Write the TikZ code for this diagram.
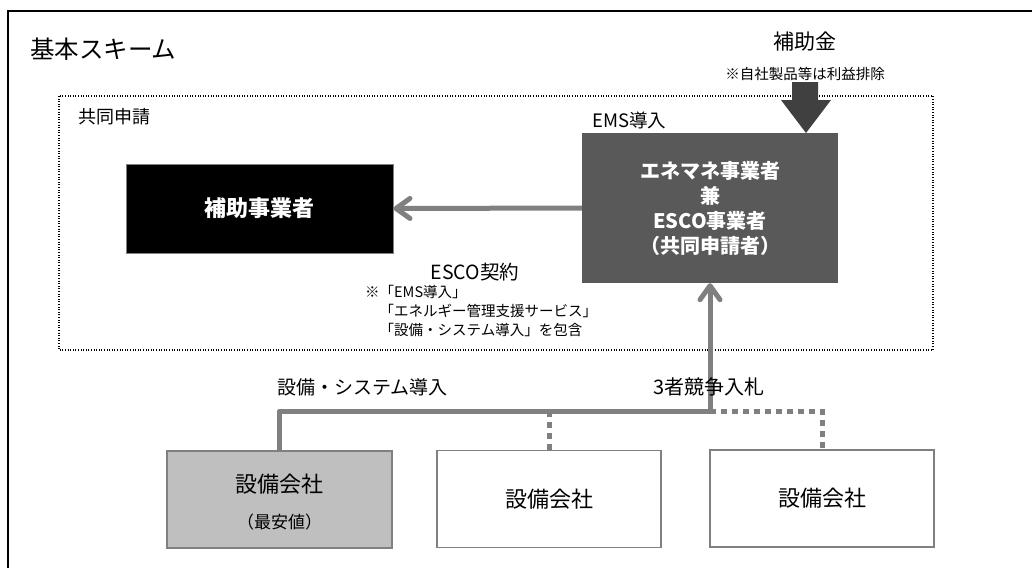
\documentclass[tikz,border=0pt]{standalone}
\usepackage{fontspec}
\setmainfont{Noto Sans CJK JP}
\usetikzlibrary{arrows.meta}
\definecolor{lgray}{HTML}{808080}
\definecolor{dgray}{HTML}{595959}
\definecolor{ddgray}{HTML}{404040}
\definecolor{fgray}{HTML}{BFBFBF}
\tikzset{
  fs/.style={font=\fontsize{#1}{#1}\selectfont},
  txt/.style={inner sep=0pt},
  eqbox/.style={draw=lgray, line width=1.5pt, minimum width=224pt, minimum height=97pt, inner sep=0pt},
  conn/.style={draw=lgray, line width=5pt, line join=round},
  dconn/.style={draw=lgray, line width=5pt, dash pattern=on 6pt off 5pt},
  barb/.style={-{Straight Barb[length=14pt,width=20pt,round]}},
}
\begin{document}
\begin{tikzpicture}[x=1pt,y=-1pt]
\useasboundingbox (0,0) rectangle (1032,568);
% outer frame (left and top sides)
\draw[line width=1.2pt] (8,568) -- (8,11) -- (1032,11);
\node[txt, anchor=west, fs=24.5] (title) at (30,49) {基本スキーム};
% joint application dotted area
\draw[line width=1.1pt, dash pattern=on 1pt off 1.6pt] (59,96) rectangle (933,350);
\node[txt, anchor=west, fs=18] (kyodo) at (78,117) {共同申請};
% boxes
\node[fill=black, draw=lgray, line width=1pt, minimum width=267pt, minimum height=89pt, text=white, font=\bfseries\fontsize{22}{27}\selectfont] (hojo) at (259.5,208.5) {補助事業者};
\node[fill=dgray, minimum width=256pt, minimum height=150pt, text=white, align=center, font=\bfseries\fontsize{20}{25}\selectfont] (ems) at (710,208) {エネマネ事業者\\兼\\ESCO事業者\\（共同申請者）};
\node[txt, anchor=west, fs=18.5] (emsin) at (592,120) {EMS導入};
% subsidy
\node[txt, fs=21] (hojokin) at (805,42) {補助金};
\node[txt, fs=14.5] (jisha) at (805,74) {※自社製品等は利益排除};
\fill[ddgray] (792,82) -- (818,82) -- (818,100) -- (831,100) -- (806,133) -- (781,100) -- (792,100) -- cycle;
% ESCO contract
\draw[conn, barb] (ems.west) -- (hojo.east);
\node[txt, fs=19.5] (esco) at (475,272) {ESCO契約};
\node[txt, anchor=north west, align=left, font=\fontsize{14.5}{19}\selectfont] (note) at (365,285) {※「EMS導入」\\\phantom{※}「エネルギー管理支援サービス」\\\phantom{※}「設備・システム導入」を包含};
% equipment companies
\node[eqbox, fill=fgray, minimum width=225pt] (eq1) at (279.5,499.5) {};
\node[txt, fs=22] (eq1a) at (279.5,484) {設備会社};
\node[txt, fs=17] (eq1b) at (279.5,522) {（最安値）};
\node[eqbox, fs=22] (eq2) at (549,499) {設備会社};
\node[eqbox, fs=22] (eq3) at (822,498.5) {設備会社};
% connectors
\coordinate (jn) at (710,411);
\draw[dconn] (jn) -| (eq3.north);
\draw[dconn] (eq2.north |- jn) -- (eq2.north);
\draw[conn, barb] (eq1.north) |- (jn) -- (ems.south);
\node[txt, anchor=west, fs=19] (setsubi) at (277,387) {設備・システム導入};
\node[txt, anchor=west, fs=20] (kyoso) at (653,387) {3者競争入札};
\end{tikzpicture}
\end{document}
